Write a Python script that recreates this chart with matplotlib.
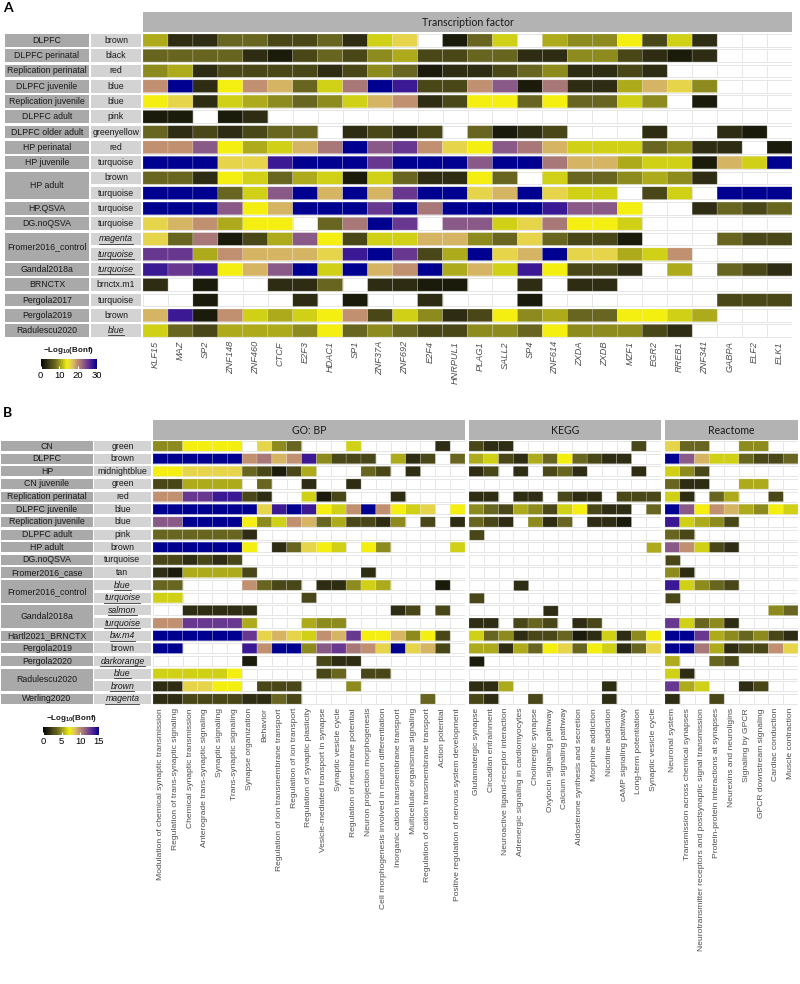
import numpy as np
import matplotlib
matplotlib.use("Agg")
import matplotlib.pyplot as plt
from matplotlib.colors import LinearSegmentedColormap, ListedColormap, Normalize
from matplotlib.patches import Rectangle
from matplotlib.lines import Line2D
from matplotlib.cm import ScalarMappable

plt.rcParams['font.family'] = ['Liberation Sans', 'DejaVu Sans']
plt.rcParams['mathtext.fontset'] = 'custom'
plt.rcParams['mathtext.rm'] = 'Liberation Sans'
plt.rcParams['mathtext.bf'] = 'Liberation Sans:bold'

W, H = 800, 984

# colour level of each cell code, as a fraction of the scale maximum ('.' = not significant)
levels = {'0': 0.06, '1': 0.11, '2': 0.17, '3': 0.25, '4': 0.32, '5': 0.37,
          '6': 0.42, '7': 0.47, '8': 0.53, '9': 0.59, 'a': 0.65, 'b': 0.71,
          'c': 0.77, 'd': 0.84, 'e': 0.92, 'f': 1.0}

# ---- panel A : transcription factors
tf_names = ["KLF15", "MAZ", "SP2", "ZNF148", "ZNF460", "CTCF", "E2F3", "HDAC1", "SP1",
            "ZNF37A", "ZNF692", "E2F4", "HNRPUL1", "PLAG1", "SALL2", "SP4", "ZNF614",
            "ZXDA", "ZXDB", "MZF1", "EGR2", "RREB1", "ZNF341", "GABPA", "ELF2", "ELK1"]
a_study = ["DLPFC", "DLPFC perinatal", "Replication perinatal", "DLPFC juvenile",
           "Replication juvenile", "DLPFC adult", "DLPFC older adult", "HP perinatal",
           "HP juvenile", "HP adult", "HP adult", "HP.QSVA", "DG.noQSVA",
           "Fromer2016_control", "Fromer2016_control", "Gandal2018a", "BRNCTX",
           "Pergola2017", "Pergola2019", "Radulescu2020"]
a_module = ["brown", "black", "red", "blue", "blue", "pink", "greenyellow", "red",
            "turquoise", "brown", "turquoise", "turquoise", "turquoise", "magenta",
            "turquoise", "turquoise", "brnctx.m1", "turquoise", "brown", "blue"]
a_underlined = [13, 14, 15, 19]
a_cells = [
    "5113322316" "8.036.5447" "261...",
    "3333102324" "5223311442" "101...",
    "4512222124" "3011234112" "1.....",
    "af17a936bf" "e22ac0b115" "984...",
    "7816543469" "a127737336" "4.0...",
    "00.01....." ".........." "......",
    "3121233.12" "12.3012..." "1..10.",
    "aac7569bfc" "da87cb9666" "3411.0",
    "fff88efffd" "fffcffb995" "66096f",
    "3317635606" "31173.6334" "541...",
    "fff36cf9f9" "dff89f866." "26.fff",
    "fffc79fffd" "fbffffecc7" "..1323",
    "89a577.3bf" "d.cc68b776" "......",
    "83b025c726" "6994383220" "...322",
    "dd5a9998ef" "d25f89f885" "6a....",
    "ede79cf6f9" "af596e7221" ".5.321",
    "1.0..113.1" "100..1.11." "......",
    "..0...1.0." ".1...0...." "...222",
    "9e0a6567a2" "6412745337" "765...",
    "6325554734" "3224437444" "21....",
]

# ---- panel B : enrichment
go_terms = ["Modulation of chemical synaptic transmission", "Regulation of trans-synaptic signaling",
            "Chemical synaptic transmission", "Anterograde trans-synaptic signaling",
            "Synaptic signaling", "Trans-synaptic signaling", "Synapse organization", "Behavior",
            "Regulation of ion transmembrane transport", "Regulation of ion transport",
            "Regulation of synaptic plasticity", "Vesicle-mediated transport in synapse",
            "Synaptic vesicle cycle", "Regulation of membrane potential",
            "Neuron projection morphogenesis", "Cell morphogenesis involved in neuron differentiation",
            "Inorganic cation transmembrane transport", "Multicellular organismal signaling",
            "Regulation of cation transmembrane transport", "Action potential",
            "Positive regulation of nervous system development"]
kegg_terms = ["Glutamatergic synapse", "Circadian entrainment", "Neuroactive ligand-receptor interaction",
              "Adrenergic signaling in cardiomyocytes", "Cholinergic synapse", "Oxytocin signaling pathway",
              "Calcium signaling pathway", "Aldosterone synthesis and secretion", "Morphine addiction",
              "Nicotine addiction", "cAMP signaling pathway", "Long-term potentiation",
              "Synaptic vesicle cycle"]
reactome_terms = ["Neuronal system", "Transmission across chemical synapses",
                  "Neurotransmitter receptors and postsynaptic signal transmission",
                  "Protein-protein interactions at synapses", "Neurexins and neuroligins",
                  "Signaling by GPCR", "GPCR downstream signaling", "Cardiac conduction",
                  "Muscle contraction"]
b_study = ["CN", "DLPFC", "HP", "CN juvenile", "Replication perinatal", "DLPFC juvenile",
           "Replication juvenile", "DLPFC adult", "HP adult", "DG.noQSVA", "Fromer2016_case",
           "Fromer2016_control", "Fromer2016_control", "Gandal2018a", "Gandal2018a",
           "Hartl2021_BRNCTX", "Pergola2019", "Pergola2020", "Radulescu2020", "Radulescu2020",
           "Werling2020"]
b_module = ["green", "brown", "midnightblue", "green", "red", "blue", "blue", "pink", "brown",
            "turquoise", "tan", "blue", "turquoise", "salmon", "turquoise", "bw.m4", "brown",
            "darkorange", "blue", "brown", "magenta"]
b_underlined = [11, 12, 13, 14, 15, 17, 18, 19, 20]
go_cells = [
    "447777.843" "...6.....1" ".",
    "ffffffab9a" "e4222.512." "3",
    "7788883202" "5...32.1.." ".",
    "225555.3.." "1..1......" ".",
    "aaddee21.." "602...1..." ".",
    "fffffff8ef" "e76afa768." "7",
    "ccffff746a" "9352214.2." "1",
    "3333331..." ".........." ".",
    "ffffff7.13" "876.74...." "6",
    "221212...." ".........." ".",
    "1055552..." "....1....." ".",
    "33....a322" ".11465...0" ".",
    "66........" "2........." ".",
    "..11111..." "......12.2" ".",
    "aadddd5..." "544......." ".",
    "ffffffd898" "6a9d779472" ".",
    "ff....eaff" "4cdba8f892" ".",
    "......0..." ".211......" ".",
    "666667...." ".23.22...." ".",
    "118877.222" "...4......" ".",
    "1122221132" "........3." ".",
]
kegg_cells = [
    "211........2.", "56215373211..", "12.1.231...1.", ".............",
    "11.11.211.222", "43254267211.3", "321.413.110..", "2............",
    "............5", ".............", ".............", "...1.........",
    "2............", ".....1.......", "11.232.12....", "6341223016147",
    "5515378376138", "0............", ".............", "115......1...",
    "21..2....1...",
]
reactome_cells = [
    "833..44..", "fc9663223", "642......", "311..55..", "61.35..2.",
    "fc7a95476", "e6542....", "32.......", "ca621....", "2........",
    "41.......", "e6432....", "2........", ".......43", "d6341....",
    "ffd543421", "ffb5122a8", "5..32....", "61.......", "d56..12..",
    "1..2.....",
]

stops = [(0.0, '#000000'), (0.06, '#1c1c0c'), (0.11, '#2e2c12'), (0.17, '#4a4818'),
         (0.25, '#666420'), (0.32, '#8e8c1e'), (0.37, '#aeac1c'), (0.42, '#d0d016'),
         (0.47, '#f4ee10'), (0.53, '#e6d44c'), (0.59, '#d6b662'), (0.65, '#c09070'),
         (0.71, '#a87878'), (0.77, '#8a5a88'), (0.84, '#6a3890'), (0.92, '#3c1894'),
         (1.0, '#000090')]
cmap = LinearSegmentedColormap.from_list('bonf', stops)

fig = plt.figure(figsize=(W / 100, H / 100), dpi=100)


def px_axes(x0, y0, x1, y1):
    return fig.add_axes([x0 / W, 1 - y1 / H, (x1 - x0) / W, (y1 - y0) / H])


def to_matrix(rows, vmax):
    return np.array([[np.nan if ch == '.' else levels[ch] * vmax for ch in r] for r in rows])


def row_axes(x0, x1, top, bottom, nr, tile):
    pitch = (bottom - top) / (nr - 1 + tile)
    g = (1 - tile) / 2 * pitch
    return px_axes(x0, top - g, x1, bottom + g)


def draw_heat(ax, mat, vmax, tile, labels, fs, italic):
    nr, nc = mat.shape
    g = (1 - tile) / 2
    xs = np.arange(nc + 1)
    norm = Normalize(0, vmax)
    for i in range(nr):
        ys = [i + g, i + 1 - g]
        ax.pcolormesh(xs, ys, np.zeros((1, nc)), cmap=ListedColormap(['white']),
                      edgecolors='#e6e6e6', linewidth=0.7)
        ax.pcolor(xs, ys, np.ma.masked_invalid(mat[i:i + 1]), cmap=cmap, norm=norm,
                  edgecolors=(1, 1, 1, 0.3), linewidth=0.4)
    ax.set_xlim(0, nc)
    ax.set_ylim(nr, 0)
    ax.set_yticks([])
    ax.set_xticks(np.arange(nc) + 0.5)
    ax.set_xticklabels(labels, rotation=90, fontsize=fs, color='#4d4d4d',
                       style='italic' if italic else 'normal')
    ax.tick_params(axis='x', length=0, pad=2)
    for s in ax.spines.values():
        s.set_visible(False)


underline = []


def draw_labels(ax, study, module, under, tile, xs_study, xs_mod, fs):
    nr = len(study)
    g = (1 - tile) / 2
    ax.set_xlim(0, xs_mod[1] + 2)
    ax.set_ylim(nr, 0)
    ax.axis('off')
    i = 0
    while i < nr:
        j = i
        while j + 1 < nr and study[j + 1] == study[i]:
            j += 1
        ax.add_patch(Rectangle((xs_study[0], i + g), xs_study[1] - xs_study[0], j - i + tile,
                               facecolor='#a9a9a9', edgecolor='none'))
        ax.text((xs_study[0] + xs_study[1]) / 2, (i + j + 1) / 2, study[i], ha='center',
                va='center', fontsize=fs, color='#1a1a1a')
        i = j + 1
    for k in range(nr):
        ax.add_patch(Rectangle((xs_mod[0], k + g), xs_mod[1] - xs_mod[0], tile,
                               facecolor='#d3d3d3', edgecolor='none'))
        t = ax.text((xs_mod[0] + xs_mod[1]) / 2, k + 0.5, module[k], ha='center', va='center',
                    fontsize=fs, color='#1a1a1a', style='italic' if k in under else 'normal')
        if k in under:
            underline.append(t)


def strip(x0, y0, x1, y1, label):
    ax = px_axes(x0, y0, x1, y1)
    ax.set_facecolor('#b3b3b3')
    ax.set_xticks([])
    ax.set_yticks([])
    for s in ax.spines.values():
        s.set_visible(False)
    ax.text(0.5, 0.47, label, ha='center', va='center', fontsize=7.6, color='#1a1a1a',
            family=['Lato', 'DejaVu Sans'], transform=ax.transAxes)


def colorbar(x0, y0, x1, y1, vmax, ticks):
    cax = px_axes(x0, y0, x1, y1)
    sm = ScalarMappable(norm=Normalize(0, vmax), cmap=cmap)
    cb = fig.colorbar(sm, cax=cax, orientation='horizontal', ticks=ticks)
    cb.outline.set_visible(False)
    cax.tick_params(labelsize=6.8, length=2, color='white', direction='in', pad=1.5)
    fig.text((x0 + x1) / 2 / W, 1 - (y0 - 8) / H, r'$\mathbf{-Log_{10}}$' + '(Bonf)',
             ha='center', va='center', fontsize=5.8, weight='bold', color='#1a1a1a')


# ---------------- panel A
fig.text(3 / W, 1 - 8 / H, 'A', fontsize=10, weight='bold', va='center',
         family=['Lato', 'DejaVu Sans'])
tileA = 0.83
axA = row_axes(143, 792, 34, 337, len(a_study), tileA)
draw_heat(axA, to_matrix(a_cells, 30), 30, tileA, tf_names, 6.6, True)
labA = row_axes(0, 143, 34, 337, len(a_study), tileA)
draw_labels(labA, a_study, a_module, a_underlined, tileA, (5, 89), (91, 141), 6.3)
strip(143, 12, 792, 32, 'Transcription factor')
colorbar(40.7, 359, 96.7, 369, 30, [0, 10, 20, 30])

# ---------------- panel B
fig.text(3 / W, 1 - 413 / H, 'B', fontsize=10, weight='bold', va='center',
         family=['Lato', 'DejaVu Sans'])
tileB = 0.8
topB, botB = 441, 704
facets = [(153, 465, go_cells, go_terms, 'GO: BP'),
          (469, 661, kegg_cells, kegg_terms, 'KEGG'),
          (665, 798, reactome_cells, reactome_terms, 'Reactome')]
for x0, x1, cells, terms, title in facets:
    ax = row_axes(x0, x1, topB, botB, len(b_study), tileB)
    draw_heat(ax, to_matrix(cells, 15), 15, tileB, terms, 6.1, False)
    strip(x0, 420, x1, 440, title)
labB = row_axes(0, 153, topB, botB, len(b_study), tileB)
draw_labels(labB, b_study, b_module, b_underlined, tileB, (1, 91), (92, 148), 6.3)
colorbar(43, 727, 99, 735, 15, [0, 5, 10, 15])

# underline the italic module names
fig.canvas.draw()
renderer = fig.canvas.get_renderer()
for t in underline:
    bb = t.get_window_extent(renderer)
    fig.add_artist(Line2D([bb.x0 / W, bb.x1 / W], [(bb.y0 - 0.3) / H] * 2,
                          color='#333333', linewidth=0.6))

fig.savefig('out.png', dpi=100)
